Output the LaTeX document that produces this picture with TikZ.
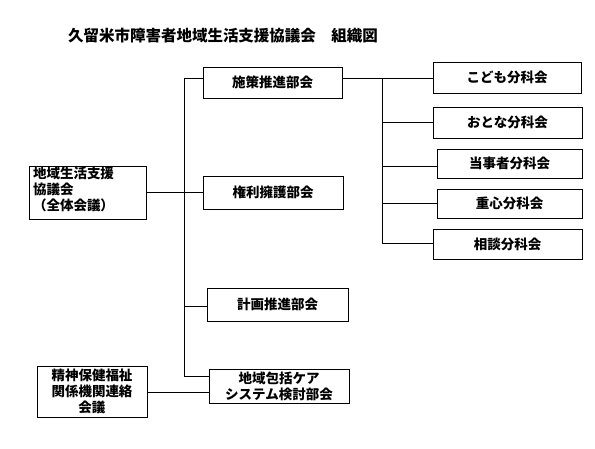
\documentclass[tikz,border=0pt]{standalone}
\usepackage{fontspec}
\setmainfont{Noto Sans CJK JP}
\usetikzlibrary{positioning}

\begin{document}
\begin{tikzpicture}[x=1pt,y=-1pt,line width=0.8pt,
	bukai/.style={draw,inner sep=0pt,align=center,font=\fontsize{13.5}{16}\selectfont\bfseries}]
	\useasboundingbox (0,0) rectangle (595,449);
	\node (titel) at (223,36) {\fontsize{15.5}{18}\selectfont\bfseries 久留米市障害者地域生活支援協議会　組織図};
	% linke Spalte
	\node[bukai,minimum width=117,minimum height=53,text width=109,align=left] (zentai) at (87.5,192.5) {地域生活支援\\協議会\\（全体会議）\\[-9pt]\mbox{}};
	\node[bukai,minimum width=110,minimum height=51] (seishin) at (92,391.5) {精神保健福祉\\関係機関連絡\\会議};
	% Bukai
	\node[bukai,minimum width=139,minimum height=31] (sesaku) at (272.5,82.5) {施策推進部会};
	\node[bukai,minimum width=140,minimum height=33] (kenri) at (273,192.5) {権利擁護部会};
	\node[bukai,minimum width=141,minimum height=33] (keikaku) at (277.5,304.5) {計画推進部会};
	\node[bukai,minimum width=140,minimum height=34] (chiiki) at (279,386) {地域包括ケア\\システム検討部会};
	% Bunkakai
	\node[bukai,minimum width=148,minimum height=31] (kodomo) at (507,77.5) {こども分科会};
	\node[bukai,minimum width=149,minimum height=31] (otona) at (507.5,122.5) {おとな分科会};
	\node[bukai,minimum width=145,minimum height=29] (tojisha) at (509.5,163.5) {当事者分科会};
	\node[bukai,minimum width=145,minimum height=29] (jushin) at (509.5,203.5) {重心分科会};
	\node[bukai,minimum width=149,minimum height=30] (sodan) at (507.5,244) {相談分科会};
	% Linien
	\coordinate (stamm1) at (184,78);
	\coordinate (stamm2) at (184,376);
	\coordinate (ast1) at (382,78);
	\coordinate (ast2) at (382,243);
	\draw (stamm1) -- (stamm2) -- (stamm2 -| chiiki.west);
	\draw (stamm1 -| sesaku.west) -- (stamm1);
	\draw (zentai.east) -- (kenri.west);
	\draw (keikaku.west |- 0,306) -- (stamm1 |- 0,306);
	\draw (seishin.east |- 0,392) -- (chiiki.west |- 0,392);
	\draw (sesaku.east |- stamm1) -- (kodomo.west |- stamm1);
	\draw (ast1) -- (ast2) -- (ast2 -| sodan.west);
	\draw (ast1 |- otona.west) -- (otona.west);
	\draw (ast1 |- 0,166) -- (tojisha.west |- 0,166);
	\draw (ast1 |- jushin.west) -- (jushin.west);
\end{tikzpicture}
\end{document}
